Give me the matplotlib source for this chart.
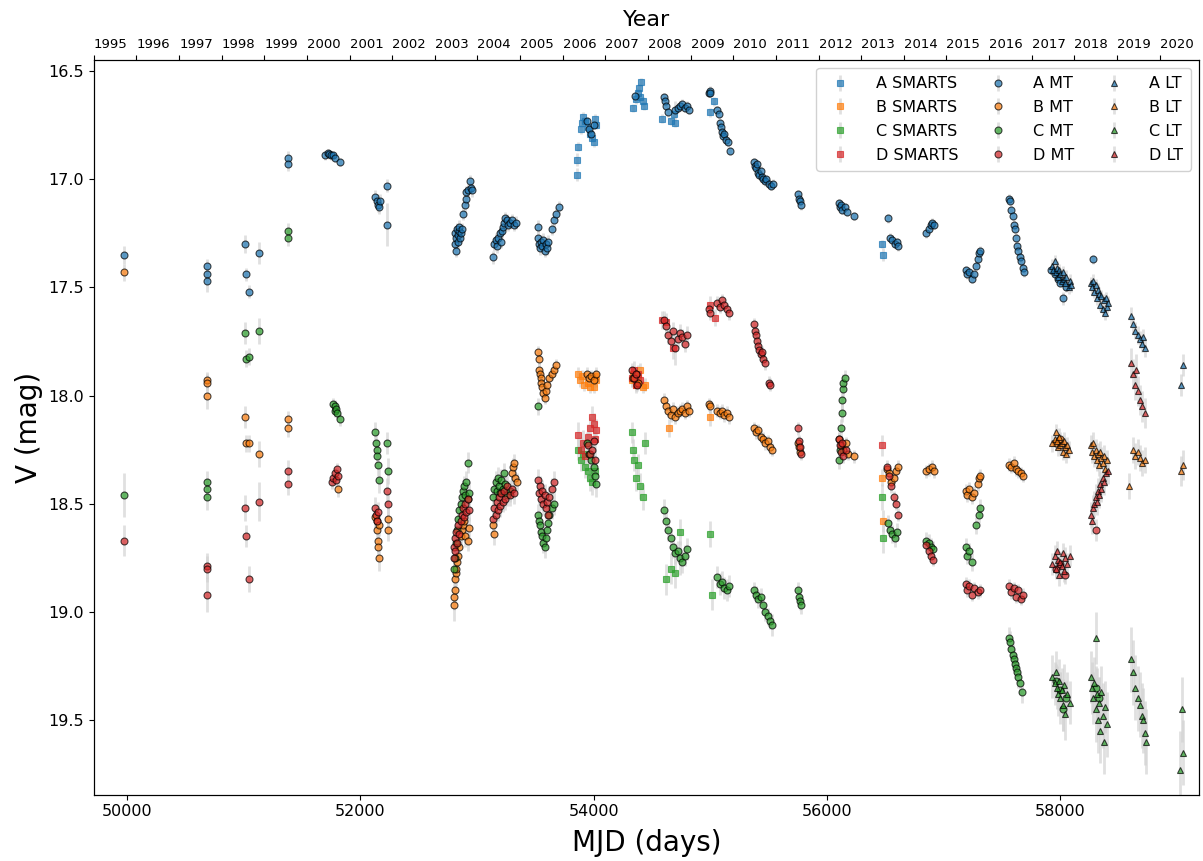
import numpy as np
import matplotlib
matplotlib.use("Agg")
import matplotlib.pyplot as plt

# light curves: (MJD, V mag, error) per image and telescope
A_SMARTS = [(53855, 16.98, .03), (53860, 16.91, .03), (53870, 16.85, .02), (53890, 16.77, .02),
            (53900, 16.74, .02), (53910, 16.71, .02), (53930, 16.73, .02), (53950, 16.76, .02),
            (53970, 16.79, .02), (53990, 16.81, .02), (54000, 16.83, .02), (54010, 16.72, .02),
            (54020, 16.75, .02), (54340, 16.67, .02), (54360, 16.63, .02), (54380, 16.60, .02),
            (54390, 16.58, .02), (54400, 16.62, .02), (54410, 16.55, .02), (54420, 16.64, .02),
            (54430, 16.66, .02), (54590, 16.72, .02), (54660, 16.73, .02), (54690, 16.70, .02),
            (54700, 16.74, .02), (55000, 16.69, .02), (55030, 16.64, .02), (56470, 17.30, .02),
            (56480, 17.35, .03)]
B_SMARTS = [(53870, 17.90, .03), (53880, 17.93, .03), (53900, 17.91, .03), (53920, 17.95, .03),
            (53950, 17.94, .03), (53970, 17.96, .03), (54000, 17.96, .03), (54010, 17.91, .03),
            (54020, 17.93, .03), (54330, 17.93, .03), (54340, 17.90, .03), (54360, 17.95, .03),
            (54380, 17.92, .03), (54400, 17.88, .03), (54420, 17.96, .03), (54440, 17.95, .03),
            (54650, 18.15, .04), (55000, 18.10, .04), (56470, 18.38, .04), (56475, 18.58, .05)]
C_SMARTS = [(53870, 18.25, .05), (53890, 18.30, .05), (53910, 18.27, .05), (53930, 18.33, .05),
            (53950, 18.35, .05), (53970, 18.38, .06), (53990, 18.40, .06), (54010, 18.35, .05),
            (54330, 18.17, .05), (54340, 18.25, .05), (54350, 18.30, .05), (54360, 18.38, .06),
            (54380, 18.32, .05), (54400, 18.42, .06), (54420, 18.47, .06), (54440, 18.22, .05),
            (54620, 18.85, .07), (54660, 18.80, .07), (54700, 18.82, .07), (54740, 18.63, .06),
            (55000, 18.64, .06), (55010, 18.92, .07), (56470, 18.47, .06), (56480, 18.66, .07)]
D_SMARTS = [(53870, 18.18, .06), (53890, 18.25, .06), (53910, 18.22, .06), (53930, 18.28, .06),
            (53950, 18.19, .06), (53970, 18.15, .05), (53990, 18.10, .05), (54000, 18.13, .05),
            (54010, 18.20, .06), (54020, 18.16, .05), (54330, 17.92, .04), (54345, 17.88, .04),
            (54360, 17.95, .04), (54380, 17.90, .04), (54400, 17.93, .04), (54590, 17.65, .04),
            (54620, 17.66, .04), (54680, 17.78, .05), (55000, 17.58, .04), (55040, 17.64, .04),
            (56470, 18.23, .05)]

A_MT = [(49978, 17.35, .04), (50686, 17.40, .03), (50688, 17.44, .03), (50690, 17.47, .05),
        (51017, 17.30, .04), (51020, 17.44, .03), (51047, 17.52, .03), (51130, 17.34, .05),
        (51378, 16.90, .03), (51380, 16.93, .03), (51700, 16.89, .02), (51720, 16.88, .02),
        (51735, 16.885, .02), (51750, 16.89, .02), (51765, 16.89, .02), (51780, 16.90, .02),
        (51830, 16.92, .02), (52126, 17.08, .03), (52140, 17.10, .03), (52150, 17.12, .03),
        (52160, 17.13, .03), (52170, 17.10, .03), (52230, 17.03, .03), (52232, 17.21, .10),
        (52810, 17.25, .03), (52815, 17.30, .03), (52820, 17.33, .03), (52825, 17.27, .03),
        (52830, 17.23, .03), (52835, 17.26, .03), (52840, 17.29, .03), (52845, 17.24, .03),
        (52850, 17.22, .03), (52855, 17.27, .03), (52860, 17.25, .03), (52870, 17.23, .03),
        (52880, 17.16, .03), (52895, 17.12, .03), (52905, 17.09, .03), (52910, 17.06, .03),
        (52925, 17.05, .03), (52940, 17.01, .03), (52950, 17.04, .03), (52960, 17.05, .03),
        (53140, 17.36, .03), (53150, 17.30, .03), (53160, 17.28, .03), (53170, 17.31, .03),
        (53180, 17.27, .03), (53195, 17.25, .03), (53205, 17.29, .03), (53215, 17.24, .03),
        (53225, 17.22, .03), (53235, 17.20, .03), (53245, 17.18, .03), (53255, 17.19, .03),
        (53265, 17.21, .03), (53280, 17.20, .03), (53300, 17.19, .03), (53320, 17.21, .03),
        (53335, 17.20, .03), (53520, 17.22, .03), (53525, 17.27, .03), (53530, 17.30, .03),
        (53540, 17.32, .03), (53550, 17.29, .03), (53560, 17.31, .03), (53570, 17.28, .03),
        (53580, 17.33, .03), (53590, 17.30, .03), (53600, 17.32, .03), (53610, 17.29, .03),
        (53640, 17.23, .03), (53660, 17.19, .03), (53675, 17.16, .03), (53700, 17.13, .03),
        (53940, 16.73, .02), (53960, 16.77, .02), (53980, 16.79, .02), (54000, 16.75, .02),
        (54355, 16.615, .02), (54600, 16.62, .02), (54610, 16.64, .02), (54620, 16.66, .02),
        (54640, 16.69, .02), (54700, 16.68, .04), (54720, 16.67, .02), (54740, 16.66, .02),
        (54760, 16.65, .02), (54780, 16.67, .02), (54800, 16.66, .02), (54820, 16.68, .02),
        (54985, 16.60, .02), (54995, 16.59, .02), (55000, 16.60, .02), (55060, 16.68, .02),
        (55070, 16.70, .02), (55080, 16.74, .02), (55090, 16.76, .02), (55100, 16.78, .02),
        (55110, 16.80, .02), (55120, 16.79, .02), (55130, 16.82, .02), (55150, 16.83, .02),
        (55170, 16.87, .02), (55370, 16.92, .02), (55380, 16.94, .02), (55390, 16.95, .02),
        (55400, 16.93, .02), (55410, 16.97, .02), (55420, 16.98, .02), (55430, 16.96, .02),
        (55440, 16.99, .02), (55450, 17.00, .02), (55470, 17.01, .02), (55480, 17.00, .02),
        (55500, 17.02, .02), (55520, 17.03, .02), (55540, 17.02, .02), (55750, 17.07, .02),
        (55760, 17.09, .02), (55770, 17.10, .02), (55775, 17.12, .02), (56100, 17.11, .02),
        (56110, 17.13, .02), (56120, 17.12, .02), (56130, 17.14, .02), (56150, 17.13, .02),
        (56170, 17.15, .02), (56230, 17.17, .02), (56520, 17.18, .02), (56540, 17.27, .02),
        (56560, 17.28, .02), (56580, 17.30, .02), (56600, 17.29, .02), (56610, 17.31, .02),
        (56850, 17.25, .02), (56870, 17.23, .02), (56890, 17.21, .02), (56900, 17.20, .02),
        (56920, 17.21, .02), (57190, 17.42, .02), (57200, 17.44, .02), (57220, 17.43, .02),
        (57240, 17.46, .02), (57260, 17.44, .02), (57280, 17.40, .02), (57290, 17.37, .02),
        (57300, 17.34, .02), (57310, 17.33, .02), (57560, 17.09, .02), (57570, 17.10, .02),
        (57580, 17.14, .02), (57590, 17.17, .02), (57600, 17.21, .02), (57610, 17.23, .02),
        (57620, 17.27, .02), (57630, 17.31, .02), (57640, 17.33, .02), (57650, 17.36, .02),
        (57660, 17.38, .02), (57680, 17.41, .02), (57690, 17.43, .02), (57920, 17.42, .02),
        (57950, 17.44, .02), (57980, 17.46, .02), (58000, 17.48, .02), (58020, 17.55, .03),
        (58050, 17.50, .02), (58280, 17.37, .02)]
B_MT = [(49978, 17.43, .04), (50686, 17.93, .04), (50688, 17.94, .04), (50690, 18.00, .06),
        (51017, 18.10, .05), (51020, 18.22, .04), (51047, 18.22, .04), (51130, 18.27, .06),
        (51378, 18.11, .04), (51380, 18.15, .04), (51810, 18.43, .04), (52130, 18.56, .05),
        (52140, 18.58, .05), (52145, 18.62, .05), (52150, 18.67, .06), (52155, 18.70, .06),
        (52160, 18.75, .06), (52165, 18.60, .05), (52235, 18.57, .05), (52240, 18.62, .05),
        (52800, 18.97, .07), (52805, 18.93, .06), (52810, 18.90, .06), (52815, 18.85, .06),
        (52820, 18.82, .06), (52825, 18.80, .05), (52830, 18.77, .05), (52840, 18.74, .05),
        (52845, 18.70, .05), (52860, 18.65, .05), (52870, 18.62, .05), (52880, 18.60, .05),
        (52890, 18.58, .05), (52900, 18.65, .05), (52920, 18.67, .05), (52930, 18.61, .05),
        (53140, 18.60, .05), (53150, 18.64, .05), (53300, 18.36, .04), (53310, 18.33, .04),
        (53320, 18.31, .04), (53330, 18.38, .04), (53340, 18.40, .04), (53525, 17.80, .03),
        (53530, 17.83, .03), (53535, 17.88, .03), (53540, 17.90, .03), (53545, 17.92, .03),
        (53550, 17.94, .03), (53560, 17.96, .03), (53570, 17.99, .03), (53580, 18.01, .03),
        (53590, 17.98, .03), (53600, 17.95, .03), (53620, 17.92, .03), (53640, 17.90, .03),
        (53660, 17.88, .03), (53680, 17.86, .03), (53940, 17.90, .03), (53960, 17.92, .03),
        (53980, 17.91, .03), (54000, 17.93, .03), (54020, 17.90, .03), (54340, 17.92, .03),
        (54360, 17.90, .03), (54380, 17.94, .03), (54600, 18.02, .03), (54620, 18.05, .03),
        (54640, 18.07, .03), (54660, 18.09, .03), (54680, 18.06, .03), (54700, 18.10, .03),
        (54720, 18.08, .03), (54740, 18.07, .03), (54760, 18.06, .03), (54780, 18.08, .03),
        (54800, 18.05, .03), (54820, 18.07, .03), (54990, 18.04, .03), (55000, 18.05, .03),
        (55060, 18.07, .03), (55080, 18.08, .03), (55100, 18.07, .03), (55120, 18.09, .03),
        (55140, 18.08, .03), (55160, 18.10, .03), (55370, 18.15, .03), (55390, 18.17, .03),
        (55410, 18.16, .03), (55430, 18.19, .03), (55450, 18.20, .03), (55470, 18.22, .03),
        (55490, 18.21, .03), (55510, 18.24, .03), (55530, 18.25, .03), (55750, 18.22, .03),
        (55760, 18.24, .03), (55770, 18.26, .03), (56100, 18.20, .03), (56120, 18.23, .03),
        (56140, 18.25, .03), (56160, 18.22, .03), (56180, 18.27, .03), (56230, 18.28, .03),
        (56510, 18.34, .03), (56530, 18.36, .03), (56550, 18.40, .03), (56570, 18.38, .03),
        (56590, 18.35, .03), (56610, 18.33, .03), (56850, 18.35, .03), (56870, 18.34, .03),
        (56900, 18.33, .03), (56920, 18.35, .03), (57190, 18.44, .03), (57200, 18.46, .03),
        (57220, 18.43, .03), (57240, 18.47, .03), (57260, 18.45, .03), (57290, 18.41, .03),
        (57300, 18.38, .03), (57310, 18.37, .03), (57560, 18.32, .03), (57580, 18.33, .03),
        (57600, 18.31, .03), (57620, 18.34, .03), (57640, 18.35, .03), (57660, 18.36, .03),
        (57680, 18.37, .03), (57960, 18.22, .03), (58000, 18.20, .03)]
C_MT = [(49978, 18.46, .10), (50686, 18.40, .05), (50688, 18.43, .05), (50690, 18.47, .06),
        (51017, 17.71, .05), (51020, 17.83, .04), (51047, 17.82, .04), (51130, 17.70, .06),
        (51378, 17.24, .04), (51380, 17.27, .04), (51770, 18.04, .03), (51780, 18.05, .03),
        (51785, 18.07, .03), (51790, 18.06, .03), (51800, 18.08, .03), (51830, 18.11, .03),
        (52130, 18.17, .05), (52135, 18.22, .05), (52140, 18.25, .05), (52145, 18.28, .05),
        (52150, 18.32, .05), (52160, 18.39, .06), (52230, 18.22, .05), (52235, 18.35, .06),
        (52800, 18.80, .07), (52810, 18.75, .06), (52820, 18.68, .06), (52830, 18.62, .06),
        (52840, 18.57, .05), (52850, 18.53, .05), (52860, 18.50, .05), (52870, 18.47, .05),
        (52880, 18.44, .05), (52890, 18.42, .05), (52900, 18.46, .05), (52910, 18.40, .05),
        (52920, 18.31, .05), (52925, 18.48, .05), (52930, 18.45, .05), (53140, 18.47, .05),
        (53150, 18.43, .05), (53160, 18.40, .05), (53170, 18.44, .05), (53180, 18.38, .05),
        (53190, 18.42, .05), (53200, 18.45, .05), (53210, 18.39, .05), (53220, 18.43, .05),
        (53230, 18.36, .05), (53240, 18.41, .05), (53260, 18.46, .05), (53280, 18.44, .05),
        (53520, 18.05, .04), (53525, 18.55, .05), (53530, 18.58, .05), (53540, 18.60, .05),
        (53550, 18.63, .05), (53560, 18.65, .05), (53570, 18.68, .05), (53580, 18.70, .05),
        (53590, 18.66, .05), (53600, 18.62, .05), (53610, 18.59, .05), (53620, 18.55, .05),
        (53640, 18.52, .05), (53660, 18.50, .05), (53940, 18.22, .05), (53960, 18.27, .05),
        (53980, 18.30, .05), (54000, 18.33, .05), (54010, 18.37, .06), (54020, 18.41, .06),
        (54600, 18.53, .05), (54620, 18.58, .05), (54640, 18.62, .05), (54660, 18.66, .05),
        (54680, 18.70, .05), (54700, 18.73, .05), (54720, 18.72, .05), (54740, 18.75, .08),
        (54760, 18.77, .05), (54780, 18.74, .05), (54800, 18.71, .05), (55060, 18.84, .05),
        (55080, 18.87, .05), (55100, 18.86, .05), (55120, 18.89, .05), (55140, 18.90, .05),
        (55160, 18.88, .05), (55370, 18.90, .04), (55390, 18.92, .04), (55410, 18.94, .04),
        (55430, 18.93, .04), (55450, 18.97, .04), (55470, 19.00, .04), (55490, 19.02, .04),
        (55510, 19.04, .04), (55530, 19.06, .05), (55750, 18.90, .04), (55760, 18.93, .04),
        (55770, 18.95, .04), (55775, 18.97, .04), (56100, 18.30, .04), (56110, 18.25, .04),
        (56120, 18.15, .04), (56125, 18.08, .04), (56130, 18.02, .04), (56135, 17.97, .04),
        (56140, 17.94, .04), (56150, 17.92, .04), (56520, 18.59, .04), (56540, 18.62, .04),
        (56560, 18.64, .04), (56580, 18.66, .04), (56600, 18.63, .04), (56850, 18.67, .04),
        (56870, 18.68, .04), (56890, 18.70, .04), (56910, 18.71, .04), (57190, 18.70, .04),
        (57200, 18.74, .04), (57220, 18.72, .04), (57240, 18.77, .04), (57280, 18.60, .04),
        (57300, 18.55, .04), (57310, 18.52, .04), (57560, 19.12, .05), (57570, 19.14, .05),
        (57580, 19.17, .05), (57590, 19.20, .05), (57600, 19.22, .05), (57610, 19.24, .05),
        (57620, 19.26, .05), (57630, 19.28, .05), (57640, 19.30, .05), (57650, 19.33, .05),
        (57670, 19.37, .05), (57960, 19.32, .08), (58000, 19.36, .08), (58020, 19.45, .10),
        (58050, 19.40, .08), (58300, 19.35, .10), (58330, 19.40, .10)]
D_MT = [(49978, 18.67, .07), (50686, 18.79, .06), (50688, 18.80, .06), (50690, 18.92, .08),
        (51017, 18.52, .06), (51020, 18.65, .05), (51047, 18.85, .06), (51130, 18.49, .09),
        (51378, 18.35, .05), (51380, 18.41, .05), (51760, 18.40, .03), (51770, 18.38, .03),
        (51780, 18.36, .03), (51790, 18.39, .03), (51800, 18.34, .03), (51810, 18.37, .03),
        (52130, 18.52, .05), (52135, 18.55, .05), (52140, 18.58, .05), (52150, 18.54, .05),
        (52230, 18.44, .06), (52235, 18.50, .06), (52800, 18.75, .06), (52805, 18.70, .06),
        (52810, 18.66, .06), (52815, 18.72, .06), (52820, 18.63, .05), (52830, 18.68, .05),
        (52840, 18.60, .05), (52850, 18.64, .05), (52860, 18.58, .05), (52870, 18.55, .05),
        (52880, 18.52, .05), (52890, 18.56, .05), (52900, 18.50, .05), (52910, 18.54, .05),
        (52920, 18.48, .05), (52930, 18.53, .05), (53140, 18.57, .05), (53150, 18.52, .05),
        (53160, 18.55, .05), (53170, 18.49, .05), (53180, 18.53, .05), (53190, 18.47, .05),
        (53200, 18.51, .05), (53210, 18.45, .05), (53220, 18.49, .05), (53230, 18.44, .05),
        (53240, 18.48, .05), (53260, 18.42, .05), (53280, 18.46, .05), (53300, 18.43, .05),
        (53320, 18.45, .05), (53520, 18.39, .05), (53530, 18.45, .05), (53540, 18.42, .05),
        (53550, 18.48, .05), (53560, 18.44, .05), (53570, 18.50, .05), (53580, 18.46, .05),
        (53590, 18.52, .05), (53600, 18.49, .05), (53610, 18.55, .05), (53620, 18.47, .05),
        (53640, 18.43, .05), (53660, 18.40, .05), (53950, 18.23, .05), (53970, 18.27, .05),
        (53990, 18.25, .05), (54000, 18.21, .05), (54010, 18.30, .05), (54330, 17.88, .03),
        (54345, 17.92, .03), (54360, 17.90, .03), (54375, 17.95, .03), (54600, 17.65, .04),
        (54620, 17.68, .04), (54640, 17.72, .04), (54660, 17.75, .04), (54680, 17.70, .04),
        (54700, 17.78, .08), (54720, 17.74, .04), (54740, 17.71, .04), (54760, 17.73, .04),
        (54780, 17.76, .04), (54800, 17.72, .04), (54990, 17.60, .03), (55000, 17.62, .03),
        (55060, 17.57, .03), (55080, 17.59, .03), (55100, 17.56, .03), (55120, 17.58, .03),
        (55140, 17.60, .03), (55160, 17.62, .03), (55370, 17.67, .03), (55380, 17.70, .03),
        (55390, 17.72, .03), (55400, 17.75, .03), (55410, 17.77, .03), (55420, 17.79, .03),
        (55430, 17.81, .03), (55440, 17.80, .03), (55450, 17.83, .03), (55470, 17.85, .03),
        (55500, 17.94, .03), (55510, 17.95, .03), (55750, 18.15, .03), (55760, 18.21, .03),
        (55770, 18.24, .03), (55775, 18.27, .03), (56100, 18.20, .03), (56110, 18.23, .03),
        (56120, 18.26, .03), (56130, 18.22, .03), (56140, 18.28, .03), (56160, 18.25, .03),
        (56510, 18.33, .03), (56530, 18.37, .03), (56550, 18.42, .03), (56570, 18.47, .03),
        (56590, 18.50, .03), (56610, 18.55, .03), (56850, 18.69, .03), (56870, 18.72, .03),
        (56890, 18.74, .03), (56910, 18.76, .03), (57190, 18.87, .03), (57200, 18.90, .03),
        (57220, 18.88, .03), (57240, 18.92, .03), (57260, 18.89, .03), (57290, 18.91, .03),
        (57310, 18.90, .03), (57560, 18.88, .03), (57580, 18.91, .03), (57600, 18.89, .03),
        (57620, 18.93, .03), (57640, 18.90, .03), (57660, 18.94, .03), (57680, 18.92, .03),
        (57960, 18.80, .04), (58000, 18.78, .04), (58040, 18.83, .04), (58300, 18.62, .05)]

A_LT = [(57930, 17.40, .03), (57940, 17.42, .03), (57950, 17.38, .03), (57960, 17.43, .03),
        (57970, 17.41, .03), (57980, 17.45, .03), (57990, 17.42, .03), (58000, 17.44, .03),
        (58010, 17.47, .03), (58020, 17.43, .03), (58030, 17.46, .03), (58040, 17.48, .03),
        (58050, 17.45, .03), (58070, 17.50, .03), (58080, 17.47, .03), (58090, 17.49, .03),
        (58260, 17.48, .03), (58270, 17.50, .03), (58280, 17.47, .03), (58290, 17.52, .03),
        (58300, 17.49, .03), (58310, 17.55, .03), (58320, 17.51, .03), (58330, 17.53, .03),
        (58340, 17.58, .03), (58350, 17.54, .03), (58360, 17.60, .03), (58370, 17.56, .03),
        (58380, 17.62, .03), (58390, 17.55, .03), (58400, 17.59, .03), (58410, 17.57, .03),
        (58600, 17.63, .04), (58620, 17.67, .04), (58640, 17.70, .04), (58660, 17.72, .04),
        (58680, 17.74, .04), (58700, 17.76, .04), (58710, 17.73, .04), (58720, 17.78, .04),
        (59030, 17.95, .05), (59050, 17.86, .05)]
B_LT = [(57930, 18.22, .04), (57950, 18.20, .04), (57960, 18.17, .04), (57970, 18.21, .04),
        (57980, 18.24, .04), (57990, 18.19, .04), (58000, 18.23, .04), (58010, 18.22, .04),
        (58020, 18.26, .04), (58030, 18.21, .04), (58040, 18.24, .04), (58050, 18.27, .04),
        (58060, 18.23, .04), (58070, 18.25, .04), (58260, 18.23, .05), (58270, 18.26, .05),
        (58280, 18.22, .05), (58290, 18.28, .05), (58300, 18.25, .05), (58310, 18.30, .05),
        (58320, 18.27, .05), (58330, 18.32, .05), (58340, 18.26, .05), (58350, 18.29, .05),
        (58360, 18.31, .05), (58370, 18.28, .05), (58380, 18.34, .05), (58400, 18.30, .05),
        (58590, 18.42, .06), (58620, 18.25, .06), (58640, 18.28, .06), (58660, 18.26, .06),
        (58680, 18.29, .06), (58700, 18.31, .06), (58720, 18.30, .06), (59030, 18.35, .07),
        (59050, 18.32, .07)]
C_LT = [(57930, 19.30, .10), (57950, 19.33, .10), (57960, 19.28, .10), (57970, 19.35, .10),
        (57980, 19.38, .10), (57990, 19.32, .10), (58000, 19.40, .12), (58010, 19.36, .10),
        (58020, 19.43, .12), (58030, 19.34, .10), (58040, 19.47, .12), (58060, 19.38, .10),
        (58080, 19.42, .10), (58260, 19.30, .12), (58270, 19.35, .12), (58280, 19.40, .12),
        (58290, 19.33, .12), (58300, 19.45, .15), (58310, 19.38, .12), (58320, 19.50, .15),
        (58330, 19.42, .12), (58340, 19.55, .15), (58350, 19.37, .12), (58360, 19.48, .15),
        (58370, 19.60, .15), (58380, 19.44, .12), (58400, 19.52, .15), (58300, 19.12, .12),
        (58600, 19.22, .15), (58620, 19.28, .15), (58640, 19.35, .15), (58660, 19.40, .15),
        (58680, 19.43, .15), (58700, 19.48, .15), (58710, 19.50, .15), (58720, 19.56, .15),
        (58730, 19.60, .15), (59020, 19.73, .18), (59040, 19.45, .15), (59050, 19.65, .15)]
D_LT = [(57930, 18.78, .05), (57950, 18.74, .05), (57960, 18.80, .05), (57970, 18.72, .05),
        (57980, 18.76, .05), (57990, 18.83, .05), (58000, 18.77, .05), (58010, 18.79, .05),
        (58020, 18.73, .05), (58030, 18.81, .05), (58040, 18.75, .05), (58060, 18.78, .05),
        (58080, 18.74, .05), (58260, 18.55, .06), (58270, 18.58, .06), (58280, 18.52, .06),
        (58290, 18.50, .06), (58300, 18.47, .06), (58310, 18.49, .06), (58320, 18.44, .06),
        (58330, 18.46, .06), (58340, 18.41, .06), (58350, 18.43, .06), (58360, 18.38, .06),
        (58370, 18.40, .06), (58390, 18.36, .06), (58410, 18.35, .06), (58600, 17.85, .07),
        (58620, 17.90, .07), (58640, 17.95, .07), (58650, 17.88, .07), (58660, 17.98, .07),
        (58680, 18.02, .07), (58700, 18.05, .07), (58720, 18.08, .07)]

YEARS = list(range(1995, 2021))
COLORS = {"A": "tab:blue", "B": "tab:orange", "C": "tab:green", "D": "tab:red"}


def year_to_mjd(y):
    # MJD of 1 January of year y
    return 49718 + (y - 1995) * 365 + (y - 1993) // 4


fig = plt.figure(figsize=(12.03, 8.61), dpi=100)
ax = fig.add_axes([0.078, 0.077, 0.919, 0.853])

series = [
    ("A SMARTS", A_SMARTS, "s"), ("B SMARTS", B_SMARTS, "s"),
    ("C SMARTS", C_SMARTS, "s"), ("D SMARTS", D_SMARTS, "s"),
    ("A MT", A_MT, "o"), ("B MT", B_MT, "o"), ("C MT", C_MT, "o"), ("D MT", D_MT, "o"),
    ("A LT", A_LT, "^"), ("B LT", B_LT, "^"), ("C LT", C_LT, "^"), ("D LT", D_LT, "^"),
]

for label, data, mk in series:
    d = np.array(data)
    col = COLORS[label[0]]
    edge = col if mk == "s" else "k"
    cont = ax.errorbar(d[:, 0], d[:, 1], yerr=d[:, 2], fmt=mk, color=col, mec=edge, mew=0.8,
                       ms=5, alpha=0.7, ecolor="lightgray", elinewidth=2, label=label)
    cont[0].set_zorder(3)
    for bar in cont[2]:
        bar.set_zorder(1)

ax.set_xlim(49718, 59190)
ax.set_ylim(19.845, 16.45)
ax.set_xlabel("MJD (days)", fontsize=20, labelpad=7)
ax.set_ylabel("V (mag)", fontsize=20)
ax.tick_params(labelsize=11.5)

top = ax.twiny()
top.set_xlim(ax.get_xlim())
top.set_xticks([year_to_mjd(y) for y in YEARS])
top.set_xticklabels([str(y) for y in YEARS], fontsize=9.5, ha="left")
top.set_xlabel("Year", fontsize=16, labelpad=8)

ax.legend(loc="upper right", ncol=3, fontsize=11.5, framealpha=0.9, borderpad=0.5,
          labelspacing=0.55, handletextpad=1.2, columnspacing=1.5)

fig.savefig("out.png", dpi=100)
